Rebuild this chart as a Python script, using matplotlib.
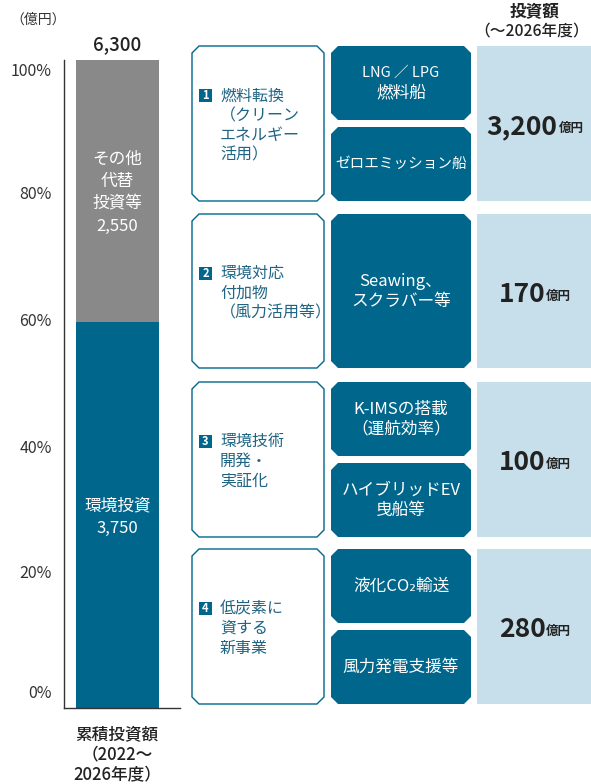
import matplotlib
matplotlib.use("Agg")
import matplotlib.pyplot as plt
from matplotlib.patches import Polygon

plt.rcParams['font.family'] = ['Noto Sans CJK JP', 'DejaVu Sans']

# ---------------- data ----------------
segment_labels = [['環境投資'], ['その他', '代替', '投資等']]
segment_values = [3750, 2550]
total_value = 6300
tick_labels = ['0%', '20%', '40%', '60%', '80%', '100%']
tick_positions = [2.5, 21.0, 40.4, 60.0, 79.6, 98.5]

group_numbers = ['1', '2', '3', '4']
group_titles = [
    ['燃料転換', '（クリーン', 'エネルギー', '活用）'],
    ['環境対応', '付加物', '（風力活用等）'],
    ['環境技術', '開発・', '実証化'],
    ['低炭素に', '資する', '新事業'],
]
group_items = [
    [['LNG ／ LPG', '燃料船'], ['ゼロエミッション船']],
    [['Seawing、', 'スクラバー等']],
    [['K-IMSの搭載', '（運航効率）'], ['ハイブリッドEV', '曳船等']],
    [['液化CO₂輸送'], ['風力発電支援等']],
]
group_amounts = [3200, 170, 100, 280]

# ---------------- style ----------------
TEAL = '#00668b'
GRAY = '#898989'
LIGHT = '#c6dfea'
TXT = '#222222'

W, H = 591, 784
fig = plt.figure(figsize=(W / 100, H / 100), dpi=100)

# bar axes
ax = fig.add_axes([64 / W, (H - 708) / H, 116 / W, 648 / H])
ax.set_xlim(0, 1)
ax.set_ylim(0, 100)
pcts = [v / total_value * 100 for v in segment_values]
colors = [TEAL, GRAY]
bottom = 0
for pct, col, lab, val in zip(pcts, colors, segment_labels, segment_values):
    ax.bar(0.461, pct, width=0.716, bottom=bottom, color=col, linewidth=0)
    lines = lab + [f'{val:,}']
    mid = bottom + pct / 2
    n = len(lines)
    step = 22.5 / 6.48
    for i, t in enumerate(lines):
        y = mid + ((n - 1) / 2 - i) * step - 0.3
        ax.text(0.461, y, t, color='white', fontsize=12, ha='center', va='center')
    bottom += pct
ax.text(0.461, 100 + 15 / 6.48, f'{total_value:,}', ha='center', va='center',
        fontsize=13.5, color=TXT, fontweight='medium')
for s in ['top', 'right']:
    ax.spines[s].set_visible(False)
for s in ['left', 'bottom']:
    ax.spines[s].set_color('#333333')
    ax.spines[s].set_linewidth(1.0)
ax.set_xticks([])
ax.set_yticks(tick_positions)
ax.set_yticklabels(tick_labels, fontsize=11.5, color='#333333')
ax.tick_params(axis='y', length=0, pad=9)
ax.set_facecolor('none')

# layout axes (pixel coords)
lay = fig.add_axes([0, 0, 1, 1])
lay.set_xlim(0, W)
lay.set_ylim(H, 0)
lay.axis('off')
lay.set_facecolor('none')


def chamfer(x0, y0, x1, y1, c, **kw):
    pts = [(x0 + c, y0), (x1 - c, y0), (x1, y0 + c), (x1, y1 - c),
           (x1 - c, y1), (x0 + c, y1), (x0, y1 - c), (x0, y0 + c)]
    lay.add_patch(Polygon(pts, closed=True, **kw))


lay.text(38, 20, '（億円）', fontsize=10, color='#333333', ha='center', va='center')
lay.text(535, 12, '投資額', fontsize=12, color=TXT, ha='center', va='center', fontweight='bold')
lay.text(532, 31, '（～2026年度）', fontsize=11.3, color=TXT, ha='center', va='center', fontweight='medium')
for i, t in enumerate(['累積投資額', '（2022～', '2026年度）']):
    lay.text(117, 734 + i * 20.5, t, fontsize=12, color=TXT, ha='center', va='center', fontweight='medium')

fig.canvas.draw()
renderer = fig.canvas.get_renderer()

group_y = [(46, 201), (214, 368), (382, 537), (549, 704)]
for gi, (y0, y1) in enumerate(group_y):
    # white title box
    chamfer(192, y0, 324, y1, 7, facecolor='white', edgecolor=TEAL, linewidth=1.0)
    title = group_titles[gi]
    n = len(title)
    ls = 19.7
    ty0 = (y0 + y1) / 2 - (n - 1) / 2 * ls + 2
    lay.add_patch(Polygon([(199, ty0 - 6.5), (212, ty0 - 6.5), (212, ty0 + 6.5), (199, ty0 + 6.5)],
                          closed=True, facecolor=TEAL, edgecolor='none'))
    lay.text(205.5, ty0, group_numbers[gi], fontsize=8, color='white', ha='center',
             va='center', fontweight='bold')
    for li, t in enumerate(title):
        lay.text(220, ty0 + li * ls, t, fontsize=11.5, color='#1f6483', ha='left', va='center')
    # dark item boxes
    items = group_items[gi]
    k = len(items)
    gap = 7
    hh = (y1 - y0 - gap * (k - 1)) / k
    for ii, item in enumerate(items):
        by0 = y0 + ii * (hh + gap)
        by1 = by0 + hh
        chamfer(331, by0, 471, by1, 7, facecolor=TEAL, edgecolor='none')
        m = len(item)
        cy = (by0 + by1) / 2
        for li, t in enumerate(item):
            fs = 10.5 if len(t) >= 9 else 12
            lay.text(401, cy + (li - (m - 1) / 2) * 20, t, fontsize=fs, color='white',
                     ha='center', va='center')
    # light amount box
    lay.add_patch(Polygon([(477, y0), (591, y0), (591, y1), (477, y1)], closed=True,
                          facecolor=LIGHT, edgecolor='none'))
    cy = (y0 + y1) / 2 + 3
    num = lay.text(0, cy, f'{group_amounts[gi]:,}', fontsize=19, fontweight='bold',
                   color=TXT, ha='left', va='center')
    unit = lay.text(0, cy + 2, '億円', fontsize=9, fontweight='bold', color=TXT,
                    ha='left', va='center')
    wn = num.get_window_extent(renderer).width
    wu = unit.get_window_extent(renderer).width
    x_start = 535 - (wn + wu + 1) / 2
    num.set_x(x_start)
    unit.set_x(x_start + wn + 1)

fig.savefig('out.png', dpi=100)
